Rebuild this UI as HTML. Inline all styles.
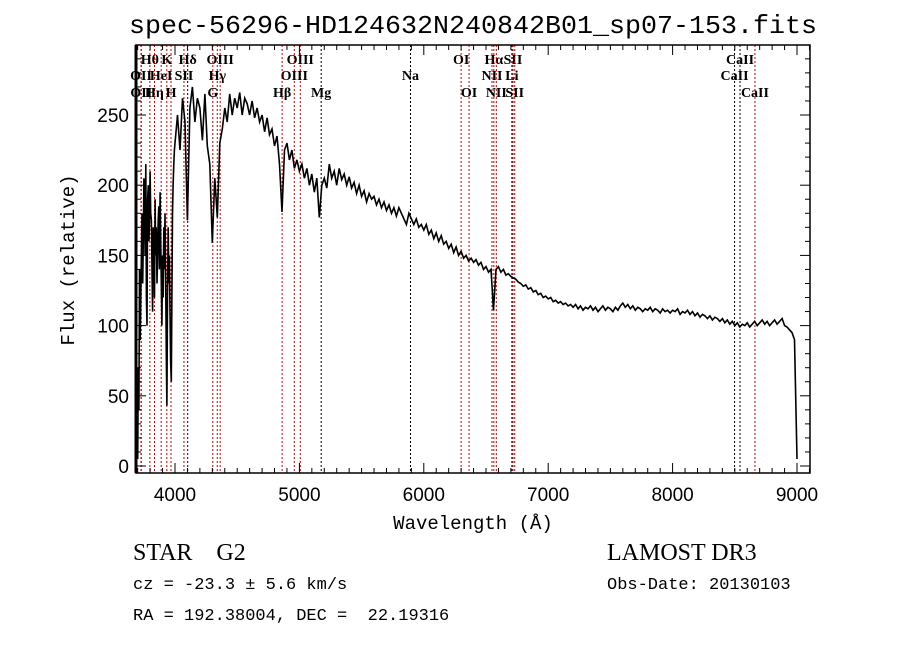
<!DOCTYPE html>
<html><head><meta charset="utf-8"><style>
html,body{margin:0;padding:0;background:#fff;width:900px;height:649px;overflow:hidden}
svg{display:block}
text{fill:#000}
</style></head><body>
<svg id="chart" width="900" height="649" viewBox="0 0 900 649" xmlns="http://www.w3.org/2000/svg">
<text x="473" y="33" text-anchor="middle" font-family="Liberation Mono, monospace" font-size="26" textLength="688" lengthAdjust="spacingAndGlyphs">spec-56296-HD124632N240842B01_sp07-153.fits</text>
<g id="lines"></g>
<g id="series"></g>
<g id="axes"></g>
<text x="473" y="529" text-anchor="middle" font-family="Liberation Mono, monospace" font-size="19">Wavelength (Å)</text>
<text transform="translate(74,260) rotate(-90)" text-anchor="middle" font-family="Liberation Mono, monospace" font-size="19">Flux (relative)</text>
<text x="133" y="560" font-family="Liberation Serif, serif" font-size="24" xml:space="preserve">STAR    G2</text>
<text x="607" y="560" font-family="Liberation Serif, serif" font-size="24">LAMOST DR3</text>
<text x="133" y="589" font-family="Liberation Mono, monospace" font-size="17" xml:space="preserve">cz = -23.3 ± 5.6 km/s</text>
<text x="607" y="589" font-family="Liberation Mono, monospace" font-size="17">Obs-Date: 20130103</text>
<text x="133" y="620" font-family="Liberation Mono, monospace" font-size="17" xml:space="preserve">RA = 192.38004, DEC =  22.19316</text>
</svg>
<script>
// blue end: 3700..3995 step 5 Å
const fluxBlue = [
5,70,40,140,90,120,150,180,130,160,
205,200,150,215,120,100,190,200,160,175,
210,180,175,140,110,170,160,120,190,150,
170,130,150,175,185,140,195,160,130,100,
150,120,170,140,180,130,80,43,120,170,
130,150,110,75,60,120,180,200,215,225];
// main: 4000..9000 step 20 Å
const fluxMain = [
230,250,225,262,245,175,255,270,245,262,
255,232,265,228,215,159,205,177,230,240,
255,245,265,250,262,255,266,250,262,258,
250,260,248,255,245,250,238,248,236,240,
228,235,215,181,225,230,218,225,212,218,
210,215,205,212,200,208,195,205,177,200,
205,198,215,205,210,200,212,204,208,200,
206,198,202,194,200,192,196,188,194,190,
192,186,190,184,188,182,186,180,184,178,
184,180,176,172,180,176,172,176,170,172,
168,172,165,168,162,166,160,164,158,160,
155,158,152,156,150,153,148,150,146,148,
145,147,143,145,140,142,138,140,111,140,
142,138,140,136,137,135,134,133,131,130,
128,129,126,127,124,125,122,123,120,121,
119,120,117,118,116,117,115,116,114,115,
113,115,112,114,111,113,112,114,111,113,
110,112,114,111,113,112,110,113,111,114,
116,113,115,112,114,111,113,112,110,112,
111,113,110,112,111,109,112,110,111,109,
111,110,112,108,110,109,111,108,110,107,
109,106,108,107,105,107,104,106,105,103,
105,102,104,101,103,100,102,99,101,100,
102,99,101,103,100,102,104,101,103,100,
102,104,101,103,105,100,99,97,95,90,
5];
const blueStart=3700, blueStep=5, mainStart=4000, mainStep=20;
const lineWaves = [3798,3934,4102,4363,5007,6300,6563,6717,8542,3727,3889,4072,4340,4959,5893,6548,6708,8498,3729,3835,3968,4304,4861,5175,6364,6583,6731,8662];
const lineLabels = ["Hθ","K","Hδ","OIII","OIII","OI","Hα","SII","CaII","OII","HeI","SII","Hγ","OIII","Na","NII","Li","CaII","OII","Hη","H","G","Hβ","Mg","OI","NII","SII","CaII"];
const lineRows = [0,0,0,0,0,0,0,0,0,1,1,1,1,1,1,1,1,1,2,2,2,2,2,2,2,2,2,2];
const lineBlack = [0,0,1,0,0,0,0,0,1,0,0,0,0,0,1,0,1,1,0,0,0,0,0,1,0,0,0,0];
const xTicks = [4000,5000,6000,7000,8000,9000];
const yTicks = [0,50,100,150,200,250];

const L=136,R=810,T=45,B=473;
const X = w => 175 + (w-4000)*0.1244;
const Y = f => 466 - f*1.404;
const NS="http://www.w3.org/2000/svg";
function mk(tag, attrs, parent){const e=document.createElementNS(NS,tag);for(const k in attrs)e.setAttribute(k,attrs[k]);parent.appendChild(e);return e;}

const lg=document.getElementById('lines');
const rowY=[64,80,97];
lineWaves.forEach((w,i)=>{
  const x=X(w);
  const ln=mk('line',{x1:x,x2:x,y1:T,y2:B,stroke:lineBlack[i]?'#000':'#c00000','stroke-width':1,'stroke-dasharray':'2,2'},lg);
  
  
  const t=mk('text',{x:x,y:rowY[lineRows[i]],'text-anchor':'middle','font-family':'Liberation Serif, serif','font-size':14,'font-weight':'bold'},lg);
  t.textContent=lineLabels[i];
  
  
});

const sg=document.getElementById('series');
const pts=[];
fluxBlue.forEach((f,i)=>pts.push(X(blueStart+i*blueStep).toFixed(1)+','+Y(f).toFixed(1)));
fluxMain.forEach((f,i)=>pts.push(X(mainStart+i*mainStep).toFixed(1)+','+Y(f).toFixed(1)));
const pl=mk('polyline',{points:pts.join(' '),fill:'none',stroke:'#000','stroke-width':1.6,'stroke-linejoin':'miter'},sg);



const ag=document.getElementById('axes');
const fr=mk('rect',{x:L,y:T,width:R-L,height:B-T,fill:'none',stroke:'#000','stroke-width':1.5},ag);


const lw=mk('line',{x1:L,x2:L,y1:T,y2:B,stroke:'#000','stroke-width':3},ag);


for(let w=3700;w<=9100;w+=100){
  const x=X(w); if(x<L||x>R) continue;
  const len = w%1000===0?10:5;
  mk('line',{x1:x,x2:x,y1:B,y2:B-len,stroke:'#000','stroke-width':1},ag);
  mk('line',{x1:x,x2:x,y1:T,y2:T+len,stroke:'#000','stroke-width':1},ag);
}
xTicks.forEach(w=>{
  const t=mk('text',{x:X(w),y:501,'text-anchor':'middle','font-family':'Liberation Sans, sans-serif','font-size':19},ag);
  t.textContent=w;
  
  
});
for(let f=0;f<=300;f+=10){
  const y=Y(f); if(y<T) continue;
  const len=f%50===0?10:5;
  mk('line',{x1:L,x2:L+len,y1:y,y2:y,stroke:'#000','stroke-width':1},ag);
  mk('line',{x1:R,x2:R-len,y1:y,y2:y,stroke:'#000','stroke-width':1},ag);
}
yTicks.forEach(f=>{
  const t=mk('text',{x:129,y:Y(f)+7,'text-anchor':'end','font-family':'Liberation Sans, sans-serif','font-size':19},ag);
  t.textContent=f;
  
  
});
</script>
</body></html>
